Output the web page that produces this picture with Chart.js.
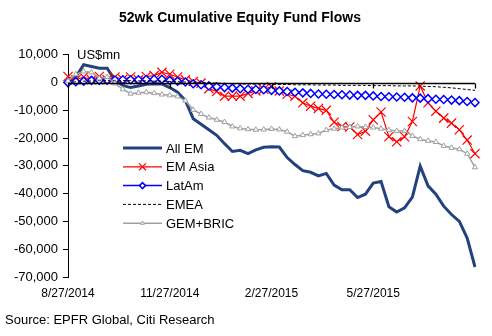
<!DOCTYPE html>
<html><head><meta charset="utf-8">
<script src="https://cdn.jsdelivr.net/npm/chart.js@4/dist/chart.umd.min.js"></script>
<style>html,body{margin:0;padding:0;background:#fff;}#wrap{width:492px;height:336px;}</style>
</head><body><div id="wrap"><canvas id="c" width="492" height="336"></canvas></div>
<script>
// weekly categories (53 weeks)
const weeks = [];
for (let i = 0; i < 53; i++) weeks.push('W' + i);
const tickIndex = [0, 13, 26, 39, 52];
const tickLabels = ['8/27/2014', '11/27/2014', '2/27/2015', '5/27/2015', ''];
const yTicks = [10000, 0, -10000, -20000, -30000, -40000, -50000, -60000, -70000];

const allEM = [0,2000,6400,5800,5200,5200,800,-1000,-1800,-1200,-600,-400,-500,-1800,-3500,-6500,-13000,-15000,-17000,-19000,-22000,-24800,-24400,-25600,-24200,-23300,-23100,-23200,-27000,-29500,-31700,-32300,-33600,-32700,-36900,-38600,-38600,-41400,-40200,-36200,-35600,-44700,-46600,-45100,-41200,-30100,-37200,-40200,-44500,-47500,-50000,-56000,-66400];
const emAsia = [2200,1000,2000,1000,2200,1000,2000,1200,2000,1000,2200,2500,3700,3000,2000,1000,400,-200,-2200,-3200,-4900,-4900,-4900,-3900,-3000,-2400,-1500,-3000,-4200,-4900,-7300,-8500,-9300,-10000,-14300,-15800,-16000,-18700,-17500,-13400,-10600,-19500,-21300,-19500,-14000,-1200,-7300,-10300,-12800,-14600,-17000,-20700,-25600];
const latAm = [0,300,500,800,800,900,900,1000,1000,1000,1100,1200,1200,800,500,200,-400,-800,-1200,-1500,-1800,-2000,-2200,-2400,-2500,-2600,-2800,-3000,-3200,-3500,-3700,-3900,-4100,-4200,-4300,-4400,-4500,-4600,-4600,-4800,-5000,-5100,-5200,-5300,-5500,-5600,-5800,-6000,-6100,-6300,-6500,-6800,-7200];
const emea = [0,300,500,600,700,800,800,700,700,600,600,500,500,400,300,200,100,0,-100,-200,-300,-400,-500,-500,-600,-600,-600,-700,-700,-800,-800,-800,-900,-900,-900,-1000,-1000,-1000,-1000,-1100,-1100,-1100,-1200,-1200,-1200,-1300,-1400,-1500,-1700,-1900,-2200,-2500,-2800];
const gemBric = [600,3000,4000,3700,1500,2000,-300,-2400,-4000,-3700,-3500,-3800,-4300,-4600,-5000,-6500,-9800,-11300,-12600,-13400,-14200,-15800,-16500,-16800,-17000,-16900,-16700,-16900,-17700,-19300,-18900,-18600,-18300,-17100,-16600,-16200,-16000,-15800,-16000,-16200,-16600,-17100,-17400,-17400,-19200,-20400,-21000,-21400,-22800,-23500,-24000,-25600,-30500];

const FONT = 'Arial, "Liberation Sans", sans-serif';

const extras = {
  id: 'extras',
  afterDatasetsDraw(chart) {
    const ctx = chart.ctx, x = chart.scales.x, y = chart.scales.y, a = chart.chartArea;
    ctx.save();
    const y0 = Math.round(y.getPixelForValue(0)) + 0.5;
    ctx.strokeStyle = '#000'; ctx.lineWidth = 1.3; ctx.setLineDash([]);
    ctx.beginPath(); ctx.moveTo(a.left, y0); ctx.lineTo(a.right, y0); ctx.stroke();
    tickIndex.forEach(i => {
      const px = Math.round(x.getPixelForValue(i)) + 0.5;
      ctx.beginPath(); ctx.moveTo(px, y0); ctx.lineTo(px, y0 + 5); ctx.stroke();
    });
    ctx.restore();
  },
  afterDraw(chart) {
    const ctx = chart.ctx, a = chart.chartArea;
    ctx.save();
    ctx.fillStyle = '#000';
    ctx.font = '13px ' + FONT;
    ctx.textBaseline = 'middle';
    ctx.fillText('US$mn', a.left + 9, a.top + 1);
    const lx = 123, ly = 148, dy = 18.8;
    chart.data.datasets.forEach((ds, k) => {
      const yy = ly + k * dy;
      ctx.save();
      ctx.strokeStyle = ds.borderColor; ctx.lineWidth = ds.borderWidth;
      ctx.setLineDash(ds.borderDash || []);
      ctx.beginPath(); ctx.moveTo(lx, yy); ctx.lineTo(lx + 39, yy); ctx.stroke();
      ctx.setLineDash([]);
      if (ds.pointRadius > 0) {
        ctx.fillStyle = ds.pointBackgroundColor || ds.borderColor;
        ctx.strokeStyle = ds.pointBorderColor || ds.borderColor;
        ctx.lineWidth = ds.pointBorderWidth;
        Chart.helpers.drawPoint(ctx, {pointStyle: ds.pointStyle, radius: ds.pointRadius * 0.75, borderWidth: ds.pointBorderWidth, rotation: 0}, lx + 19.5, yy);
      }
      ctx.restore();
      ctx.fillStyle = '#000'; ctx.font = '13px ' + FONT; ctx.textBaseline = 'middle';
      ctx.fillText(ds.label, lx + 43, yy + 1);
    });
    ctx.restore();
  }
};

new Chart(document.getElementById('c'), {
  type: 'line',
  data: {
    labels: weeks,
    datasets: [
      {label: 'All EM', data: allEM, borderColor: '#22427F', borderWidth: 3, pointRadius: 0, order: 5, tension: 0},
      {label: 'EM Asia', data: emAsia, borderColor: '#FF0000', backgroundColor: '#FF0000', borderWidth: 1.2, pointStyle: 'crossRot', pointRadius: 6.5, pointBorderWidth: 1.2, pointBorderColor: '#FF0000', order: 4},
      {label: 'LatAm', data: latAm, borderColor: '#0000FF', backgroundColor: '#FFFFFF', borderWidth: 1.5, pointStyle: 'rectRot', pointRadius: 4, pointBorderWidth: 1.5, pointBorderColor: '#0000FF', pointBackgroundColor: '#FFFFFF', order: 3},
      {label: 'EMEA', data: emea, borderColor: '#000000', borderWidth: 1, borderDash: [3, 2], pointRadius: 0, order: 2},
      {label: 'GEM+BRIC', data: gemBric, borderColor: '#A0A0A0', backgroundColor: '#FFFFFF', borderWidth: 1.5, pointStyle: 'triangle', pointRadius: 3, pointBorderWidth: 1, pointBorderColor: '#A0A0A0', pointBackgroundColor: '#FFFFFF', order: 1}
    ]
  },
  options: {
    responsive: false,
    animation: false,
    devicePixelRatio: 1,
    layout: {padding: {left: 5, right: 17, top: 0, bottom: 0}},
    plugins: {
      legend: {display: false},
      tooltip: {enabled: false},
      title: {display: true, text: '52wk Cumulative Equity Fund Flows', color: '#000',
        font: {family: FONT, size: 14, weight: 'bold'}, padding: {top: 10, bottom: 28}},
      subtitle: {display: true, position: 'bottom', align: 'start', text: 'Source: EPFR Global, Citi Research', color: '#000',
        font: {family: FONT, size: 13}, padding: {top: 3, bottom: 8}}
    },
    scales: {
      x: {
        type: 'category',
        offset: false,
        grid: {display: false, drawTicks: false},
        border: {display: false},
        ticks: {autoSkip: false, maxRotation: 0, padding: 9, color: '#000', font: {family: FONT, size: 12},
          callback: (v, i) => { const k = tickIndex.indexOf(i); return k >= 0 ? tickLabels[k] : ''; }}
      },
      y: {
        min: -70000, max: 10000,
        afterBuildTicks: s => { s.ticks = yTicks.map(v => ({value: v})); },
        afterFit: s => { s.width = 63; },
        grid: {drawOnChartArea: false, drawTicks: true, tickLength: 5, color: '#000'},
        border: {display: true, color: '#000', width: 1},
        ticks: {padding: 5, color: '#000', font: {family: FONT, size: 13},
          callback: v => v.toLocaleString('en-US')}
      }
    }
  },
  plugins: [extras]
});
</script></body></html>
